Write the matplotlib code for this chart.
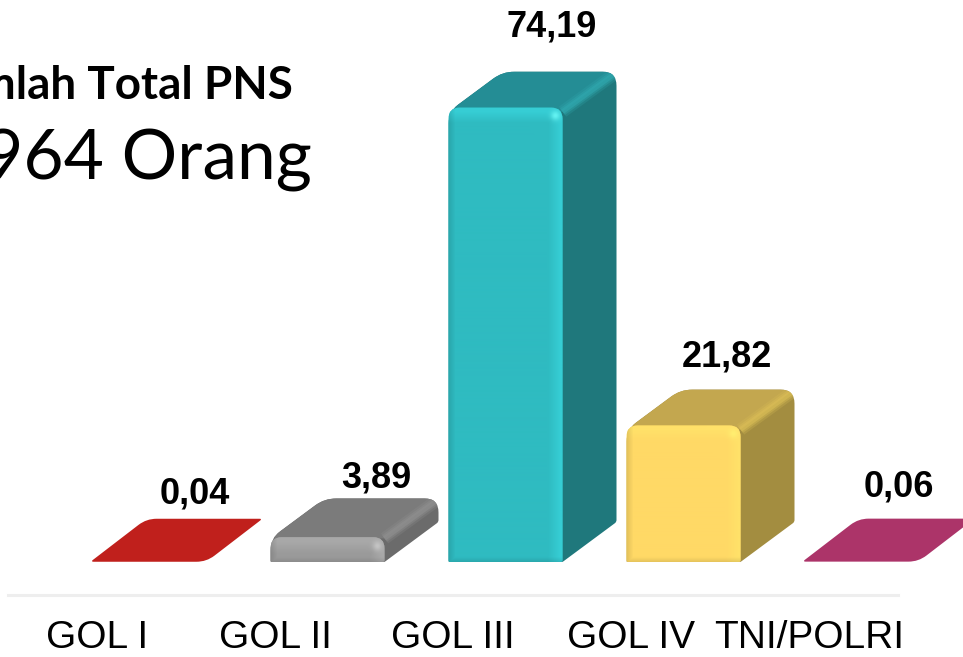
import numpy as np
import matplotlib
matplotlib.use("Agg")
import matplotlib.pyplot as plt
from matplotlib.path import Path
from matplotlib.patches import PathPatch
from matplotlib.colors import to_rgb

categories = ["GOL I", "GOL II", "GOL III", "GOL IV", "TNI/POLRI"]
values = [0.04, 3.89, 74.19, 21.82, 0.06]
value_labels = ["0,04", "3,89", "74,19", "21,82", "0,06"]

# face colours per bar
front_colors = ["#C0201C", "#9A9A9A", "#2FBBC1", "#FFD966", "#AC3469"]
bevel_colors = ["#C0201C", "#A8A8A8", "#36CDD4", "#FFE169", "#AC3469"]
spot_colors = ["#C0201C", "#C4C4C4", "#63F2F2", "#FFEE70", "#AC3469"]
top_colors = ["#C0201C", "#7B7B7B", "#248D95", "#C3A74F", "#AC3469"]
edge_colors = ["#C0201C", "#909090", "#30A8AF", "#DABD56", "#AC3469"]
side_colors = ["#C0201C", "#6B6B6B", "#1F787C", "#A38D40", "#AC3469"]

# layout, in pixels of the 963x657 canvas
PX_PER_CAT = 178.0
PX_PER_VAL = 6.07
FIRST_BAR_PX = 149.5
BASE_PX = 562.0
AXIS_PX = 595.0
AXIS_LEFT, AXIS_RIGHT = 8.0, 898.0
BAR_W = 114.0
DEPTH_X = 54.0
DEPTH_Y = 40.0
FLAT_DEPTH_Y = 43.0
TICK_SHIFT = -52.5
LABEL_DX = [45.5, 49.0, 46.0, 43.0, 37.0]
LABEL_DY = [15.0, 11.0, 35.0, 23.0, 22.0]

W, H = 963, 657


def rounded_path(points, radii):
    """Closed path through pixel points with rounded corners."""
    pts = [np.array(p, float) for p in points]
    n = len(pts)
    verts, codes = [], []
    for i, p in enumerate(pts):
        a = pts[i - 1]
        b = pts[(i + 1) % n]
        r = radii[i]
        u = (a - p) / np.linalg.norm(a - p)
        v = (b - p) / np.linalg.norm(b - p)
        start, end = p + u * r, p + v * r
        verts.append(start)
        codes.append(Path.MOVETO if i == 0 else Path.LINETO)
        verts += [p, end]
        codes += [Path.CURVE3, Path.CURVE3]
    verts.append(verts[0])
    codes.append(Path.CLOSEPOLY)
    return np.array(verts), codes


def to_data(verts):
    """Pixel-sized offsets (x from first bar, y up from baseline) to data units."""
    out = verts.copy()
    out[:, 0] = verts[:, 0] / PX_PER_CAT
    out[:, 1] = verts[:, 1] / PX_PER_VAL
    return out


def add_poly(ax, points, radii, color, z):
    verts, codes = rounded_path(points, radii)
    patch = PathPatch(Path(to_data(verts), codes), facecolor=color, edgecolor="none",
                      zorder=z, clip_on=False)
    ax.add_patch(patch)
    return patch


def front_shading(w, h, base, bevel, spot):
    """RGB array for the bevelled front face, top row first."""
    yy, xx = np.mgrid[0:int(h), 0:int(w)]
    from_top = yy.astype(float)
    from_right = w - 1 - xx.astype(float)
    from_left = xx.astype(float)
    from_bottom = h - 1 - yy.astype(float)
    base, bevel, spot = np.array(to_rgb(base)), np.array(to_rgb(bevel)), np.array(to_rgb(spot))

    light = np.maximum(np.clip(1.4 - from_top / 11.0, 0, 1),
                       np.clip(1.2 - from_right / 12.0, 0, 1))
    dark = np.maximum(np.clip(1 - from_left / 6.0, 0, 1),
                      np.clip(1 - from_bottom / 5.0, 0, 1)) * 0.10
    glow = np.exp(-((from_right - 7) ** 2 + (from_top - 8) ** 2) / 22.0)

    img = base + (bevel - base) * light[..., None]
    img = img * (1 - dark[..., None])
    img = img + (spot - img) * glow[..., None]
    return np.clip(img, 0, 1)


plt.rcParams["font.family"] = ["Liberation Sans", "DejaVu Sans"]

fig = plt.figure(figsize=(W / 100, H / 100), dpi=100)
ax = fig.add_axes([AXIS_LEFT / W, 1 - AXIS_PX / H, (AXIS_RIGHT - AXIS_LEFT) / W, AXIS_PX / H])
xlim = ((AXIS_LEFT - FIRST_BAR_PX) / PX_PER_CAT, (AXIS_RIGHT - FIRST_BAR_PX) / PX_PER_CAT)
ylim = (-(AXIS_PX - BASE_PX) / PX_PER_VAL, BASE_PX / PX_PER_VAL)

for i, v in enumerate(values):
    cx = i * PX_PER_CAT
    x0, x1 = cx - BAR_W / 2, cx + BAR_W / 2
    h = v * PX_PER_VAL

    if h < 4:
        # nearly empty bar: only the top face shows
        d = FLAT_DEPTH_Y
        add_poly(ax, [(x0 - 2, h), (x1, h), (x1 + DEPTH_X + 2, h + d), (x0 + DEPTH_X, h + d)],
                 [3, 10, 3, 10], top_colors[i], 3)
        continue

    d = DEPTH_Y
    over = min(4.0, h * 0.05)
    # outline of top and side together gives the rounded back corner
    body = add_poly(ax, [(x1, 0), (x1 + DEPTH_X, d), (x1 + DEPTH_X, h + d),
                         (x0 + DEPTH_X, h + d), (x0, h), (x0, 0)],
                    [1, 2, 14, 12, 12, 1], side_colors[i], 2)
    top = PathPatch(Path([(x0 / PX_PER_CAT, h / PX_PER_VAL), (x1 / PX_PER_CAT, h / PX_PER_VAL),
                          ((x1 + DEPTH_X) / PX_PER_CAT, (h + d) / PX_PER_VAL),
                          ((x0 + DEPTH_X) / PX_PER_CAT, (h + d) / PX_PER_VAL),
                          (x0 / PX_PER_CAT, h / PX_PER_VAL)], closed=True),
                    facecolor=top_colors[i], edgecolor="none", zorder=3)
    ax.add_patch(top)
    top.set_clip_path(body)
    # soft bevel along the edge between top and side
    for lw, alpha in [(9, 0.25), (6, 0.4), (3.5, 0.6)]:
        line, = ax.plot([x1 / PX_PER_CAT, (x1 + DEPTH_X - 3) / PX_PER_CAT],
                        [h / PX_PER_VAL, (h + d - 3) / PX_PER_VAL],
                        color=edge_colors[i], lw=lw, alpha=alpha, zorder=3.5,
                        solid_capstyle="butt")
        line.set_clip_path(body)

    face_h = h + over
    clip = add_poly(ax, [(x0, 0), (x1, 0), (x1, face_h), (x0, face_h)],
                    [2, 2, 11, 11], front_colors[i], 4)
    shade = front_shading(BAR_W, face_h, front_colors[i], bevel_colors[i], spot_colors[i])
    im = ax.imshow(shade, extent=(x0 / PX_PER_CAT, x1 / PX_PER_CAT, 0, face_h / PX_PER_VAL),
                   aspect="auto", interpolation="bilinear", zorder=5)
    im.set_clip_path(clip)

for i, lab in enumerate(value_labels):
    h = values[i] * PX_PER_VAL
    d = FLAT_DEPTH_Y if h < 4 else DEPTH_Y
    ax.text((i * PX_PER_CAT + LABEL_DX[i]) / PX_PER_CAT, (h + d + LABEL_DY[i]) / PX_PER_VAL, lab,
            ha="center", va="baseline", fontsize=26, fontweight="bold", color="black",
            clip_on=False, zorder=6)

ax.set_xlim(*xlim)
ax.set_ylim(*ylim)
ax.set_xticks([i + TICK_SHIFT / PX_PER_CAT for i in range(len(categories))])
ax.set_xticklabels(categories)
ax.tick_params(axis="x", length=0, pad=18, labelsize=28)
ax.set_yticks([])
for name in ["top", "left", "right"]:
    ax.spines[name].set_visible(False)
ax.spines["bottom"].set_color("#EEEEEE")
ax.spines["bottom"].set_linewidth(2.2)
ax.patch.set_alpha(0)

# heading runs off the left edge of the canvas
fig.text(293 / W, 1 - 99 / H, "Jumlah Total PNS", ha="right", va="baseline",
         family="Lato", fontweight="bold", fontsize=33)
fig.text(312 / W, 1 - 180 / H, "964 Orang", ha="right", va="baseline",
         family="Lato", fontsize=50)

fig.savefig("out.png", dpi=100)
plt.close(fig)
